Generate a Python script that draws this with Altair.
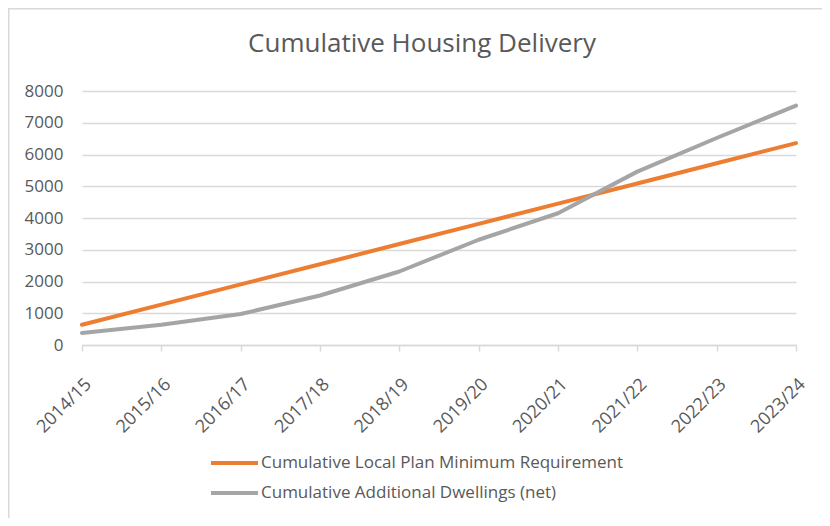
import altair as alt
import pandas as pd

years = ["2014/15", "2015/16", "2016/17", "2017/18", "2018/19",
         "2019/20", "2020/21", "2021/22", "2022/23", "2023/24"]
requirement = [636, 1272, 1908, 2544, 3180, 3816, 4452, 5088, 5724, 6360]
delivered = [375, 640, 975, 1560, 2315, 3315, 4150, 5460, 6520, 7540]

series_names = ["Cumulative Local Plan Minimum Requirement",
                "Cumulative Additional Dwellings (net)"]
series_colors = ["#ED7D31", "#A5A5A5"]

rows = []
for i, y in enumerate(years):
    rows.append({"year": y, "series": series_names[0], "value": requirement[i], "order": 0})
    rows.append({"year": y, "series": series_names[1], "value": delivered[i], "order": 1})
df = pd.DataFrame(rows)

FONT = "Open Sans"
TXT = "#595959"
GRID = "#D9D9D9"

lines = alt.Chart(df).mark_line(strokeWidth=4, strokeCap="round", strokeJoin="round").encode(
    x=alt.X("year:N", sort=years, title=None,
            scale=alt.Scale(type="point", padding=0),
            axis=alt.Axis(labelAngle=-45, labelFontSize=18, labelFont=FONT, labelColor=TXT,
                          domainColor=GRID, domainWidth=1.5, tickColor=GRID, tickWidth=1.5,
                          tickSize=6, labelPadding=24, grid=False)),
    y=alt.Y("value:Q", title=None,
            scale=alt.Scale(domain=[0, 8000], nice=False, zero=True),
            axis=alt.Axis(values=[0, 1000, 2000, 3000, 4000, 5000, 6000, 7000, 8000],
                          format="d",
                          labelFontSize=17, labelFont=FONT, labelColor=TXT,
                          domain=False, ticks=False, labelPadding=19,
                          grid=True, gridColor=GRID, gridWidth=1.5)),
    color=alt.Color("series:N",
                    scale=alt.Scale(domain=series_names, range=series_colors),
                    legend=alt.Legend(title=None, orient="none", legendX=127, legendY=366,
                                      direction="vertical", symbolType="stroke",
                                      symbolSize=2209, symbolStrokeWidth=4,
                                      labelFontSize=17, labelFont=FONT, labelColor=TXT,
                                      labelLimit=600, labelOffset=1, rowPadding=13,
                                      clipHeight=12, padding=0)),
    order=alt.Order("order:Q"),
)

frame_df = pd.DataFrame({"k": [0]})
frame_left = alt.Chart(frame_df).mark_rule(color=GRID, strokeWidth=1.5).encode(
    x=alt.value(-73.25), y=alt.value(-83), y2=alt.value(430))
frame_top = alt.Chart(frame_df).mark_rule(color=GRID, strokeWidth=1.5).encode(
    x=alt.value(-74), x2=alt.value(740), y=alt.value(-82.25))

chart = alt.layer(frame_left, frame_top, lines).properties(
    width=714, height=254,
    title=alt.TitleParams("Cumulative Housing Delivery", font=FONT, fontSize=26,
                          fontWeight="normal", color=TXT, anchor="middle",
                          baseline="alphabetic",
                          frame="group", dx=-17, dy=71, offset=0),
    autosize=alt.AutoSizeParams(type="none"),
    padding={"left": 74, "top": 83, "right": 26, "bottom": 173},
).configure_view(stroke=None)

chart.save("out.html", embed_options={"renderer": "svg", "actions": False})
